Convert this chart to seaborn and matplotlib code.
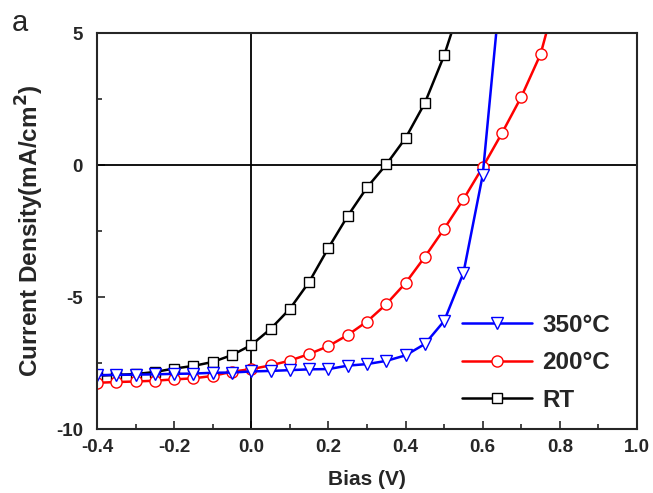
import numpy as np
import pandas as pd
import matplotlib
matplotlib.use('Agg')
import matplotlib.pyplot as plt
import seaborn as sns
from matplotlib.ticker import MultipleLocator

sns.set_style('ticks')
plt.rcParams['font.family'] = ['Liberation Sans', 'DejaVu Sans']
plt.rcParams['axes.unicode_minus'] = False

# bias (V) and current density (mA/cm2)
bias_rt = [-0.4, -0.35, -0.3, -0.25, -0.2, -0.15, -0.1, -0.05, 0.0, 0.05,
           0.1, 0.15, 0.2, 0.25, 0.3, 0.35, 0.4, 0.45, 0.5, 0.55]
j_rt = [-7.98, -7.95, -7.92, -7.84, -7.71, -7.61, -7.46, -7.2, -6.82, -6.21,
        -5.45, -4.43, -3.14, -1.93, -0.85, 0.02, 1.02, 2.35, 4.15, 6.4]

bias_200 = [-0.4, -0.35, -0.3, -0.25, -0.2, -0.15, -0.1, -0.05, 0.0, 0.05,
            0.1, 0.15, 0.2, 0.25, 0.3, 0.35, 0.4, 0.45, 0.5, 0.55,
            0.6, 0.65, 0.7, 0.75, 0.8]
j_200 = [-8.25, -8.22, -8.2, -8.17, -8.12, -8.08, -7.99, -7.83, -7.73, -7.59,
         -7.41, -7.16, -6.86, -6.44, -5.93, -5.27, -4.47, -3.48, -2.42, -1.3,
         -0.08, 1.21, 2.58, 4.2, 6.9]

bias_350 = [-0.4, -0.35, -0.3, -0.25, -0.2, -0.15, -0.1, -0.05, 0.0, 0.05,
            0.1, 0.15, 0.2, 0.25, 0.3, 0.35, 0.4, 0.45, 0.5, 0.55,
            0.6, 0.65]
j_350 = [-7.96, -7.95, -7.94, -7.93, -7.91, -7.9, -7.87, -7.86, -7.82, -7.8,
         -7.77, -7.74, -7.73, -7.6, -7.54, -7.42, -7.21, -6.78, -5.91, -4.09,
         -0.38, 7.3]

fig = plt.figure(figsize=(6.53, 4.93), dpi=100)
ax = fig.add_axes([0.1485, 0.1298, 0.827, 0.8032])

ax.axhline(0, color='black', lw=1.3, zorder=1)
ax.axvline(0, color='black', lw=1.3, zorder=1)

mk = dict(markerfacecolor='white', markeredgewidth=1.0, linewidth=1.8, ax=ax)
sns.lineplot(x=bias_rt, y=j_rt, color='black', marker='s', markersize=6.5,
             markeredgecolor='black', label='RT', **mk)
sns.lineplot(x=bias_200, y=j_200, color='red', marker='o', markersize=8,
             markeredgecolor='red', label='200\u00b0C', **mk)
sns.lineplot(x=bias_350, y=j_350, color='blue', marker='v', markersize=8,
             markeredgecolor='blue', label='350\u00b0C', **mk)

ax.set_xlim(-0.4, 1.0)
ax.set_ylim(-10, 5)
ax.xaxis.set_major_locator(MultipleLocator(0.2))
ax.xaxis.set_minor_locator(MultipleLocator(0.1))
ax.yaxis.set_major_locator(MultipleLocator(5))
ax.yaxis.set_minor_locator(MultipleLocator(2.5))
ax.xaxis.set_major_formatter(matplotlib.ticker.FormatStrFormatter('%.1f'))
ax.tick_params(which='both', direction='in', width=1.2, labelsize=13.5)
ax.tick_params(axis='x', which='major', length=6, pad=7)
ax.tick_params(axis='y', which='major', length=6, pad=10)
ax.tick_params(which='minor', length=3.5)
for lab in ax.get_xticklabels() + ax.get_yticklabels():
    lab.set_fontweight('bold')
for sp in ax.spines.values():
    sp.set_linewidth(1.5)
    sp.set_visible(True)

ax.set_xlabel('Bias (V)', fontsize=15, fontweight='bold', labelpad=10)
ax.set_ylabel('Current Density(mA/cm$\\mathbf{^2}$)', fontsize=17.5,
              fontweight='bold')
ax.yaxis.set_label_coords(-0.095, 0.5)

h, l = ax.get_legend_handles_labels()
order = [2, 1, 0]
leg = ax.legend([h[i] for i in order], [l[i] for i in order], loc='lower right',
                bbox_to_anchor=(0.99, -0.012), frameon=False, handlelength=2.9,
                numpoints=1, handletextpad=0.4, labelspacing=0.6,
                prop={'size': 17.5, 'weight': 'bold'})

fig.text(0.018, 0.937, 'a', fontsize=21)

fig.savefig('out.png', dpi=100)
